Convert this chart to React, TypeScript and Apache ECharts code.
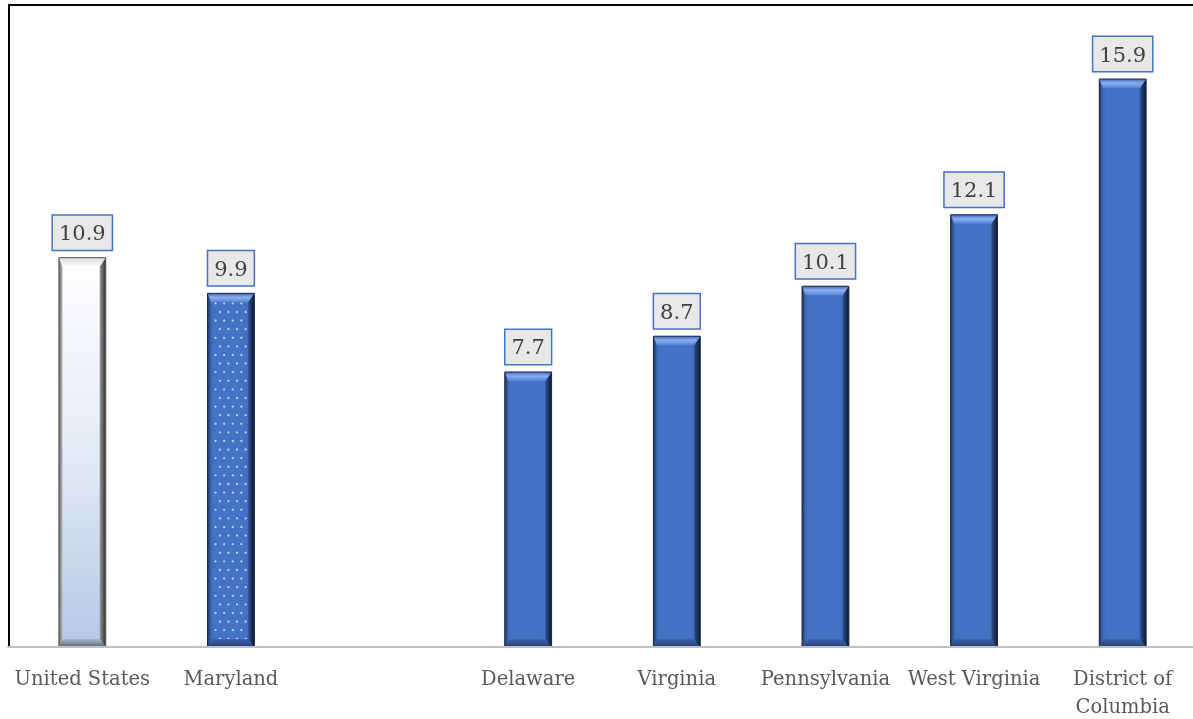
import React, { useEffect, useRef } from "react";
import * as echarts from "echarts";

const categories = ["United States", "Maryland", "", "Delaware", "Virginia", "Pennsylvania", "West Virginia", "District of\nColumbia"];
const values: (number | null)[] = [10.9, 9.9, null, 7.7, 8.7, 10.1, 12.1, 15.9];
const yMax = 18;

export default function App() {
  const ref = useRef<HTMLDivElement>(null);
  useEffect(() => {
    const chart = echarts.init(ref.current!, null, { renderer: "svg" });
    const lin = (x: number, y: number, x2: number, y2: number, stops: [number, string][]) =>
      new echarts.graphic.LinearGradient(x, y, x2, y2, stops.map(([o, c]) => ({ offset: o, color: c })));

    const renderItem = (params: any, api: any) => {
      const v = api.value(1);
      if (v === null || v === undefined || isNaN(v)) return { type: "group", children: [] };
      const idx = api.value(0);
      const name = categories[idx];
      const [cx, yTop] = api.coord([idx, v]);
      const [, yBase] = api.coord([idx, 0]);
      const w = api.size([1, 0])[0] * 0.315;
      const x0 = cx - w / 2;
      const x1 = cx + w / 2;
      const h = yBase - yTop;
      const b = 6;
      const silver = name === "United States";
      const dotted = name === "Maryland";
      const children: any[] = [];
      children.push({
        type: "rect",
        shape: { x: x0, y: yTop, width: w, height: h },
        style: {
          fill: silver
            ? lin(0, 0, 0, 1, [[0, "#ffffff"], [0.5, "#e4ebf6"], [1, "#b4c7e7"]])
            : lin(0, 0, 1, 0, [[0, "#3a63ad"], [0.15, "#4472c4"], [0.8, "#4472c4"], [1, "#3a62a8"]]),
        },
      });
      if (dotted) {
        const sp = 8.6;
        let row = 0;
        for (let y = yTop + b + 4; y < yBase - 4; y += sp, row++) {
          const off = row % 2 === 0 ? 0 : sp / 2;
          for (let x = x0 + b + 2 + off; x < x1 - b; x += sp) {
            children.push({ type: "circle", shape: { cx: x, cy: y, r: 1.1 }, style: { fill: "rgba(225,235,255,0.85)" } });
          }
        }
      }
      children.push({
        type: "polygon",
        shape: { points: [[x0, yTop], [x0 + b * 0.6, yTop + b], [x0 + b * 0.6, yBase - b], [x0, yBase]] },
        style: { fill: silver ? lin(0, 0, 1, 0, [[0, "#6b6b6b"], [1, "#b8b8b8"]]) : lin(0, 0, 1, 0, [[0, "#1f3864"], [1, "#3d67b5"]]) },
      });
      children.push({
        type: "polygon",
        shape: { points: [[x1, yTop], [x1 - b, yTop + b], [x1 - b, yBase - b], [x1, yBase]] },
        style: { fill: silver ? lin(0, 0, 1, 0, [[0, "#9a9a9a"], [1, "#2e2e2e"]]) : lin(0, 0, 1, 0, [[0, "#2d4f8e"], [1, "#0c1830"]]) },
      });
      children.push({
        type: "polygon",
        shape: { points: [[x0, yTop], [x1, yTop], [x1 - b, yTop + b + 3], [x0 + b * 0.6, yTop + b + 3]] },
        style: { fill: silver ? lin(0, 0, 0, 1, [[0, "#d9d9d9"], [1, "#ffffff"]]) : lin(0, 0, 0, 1, [[0, "#3e68b8"], [0.45, "#8aaef0"], [1, "#5583d6"]]) },
      });
      children.push({
        type: "polygon",
        shape: { points: [[x0, yBase], [x1, yBase], [x1 - b, yBase - b - 2], [x0 + b * 0.6, yBase - b - 2]] },
        style: { fill: silver ? lin(0, 0, 0, 1, [[0, "#a9b8d2"], [1, "#5c6475"]]) : lin(0, 0, 0, 1, [[0, "#3d66b0"], [1, "#243f73"]]) },
      });
      children.push({
        type: "rect",
        shape: { x: x0, y: yTop, width: w, height: h },
        style: { fill: "none", stroke: silver ? "#555555" : "#1a2a4a", lineWidth: 1 },
      });
      children.push({
        type: "text",
        style: {
          text: String(v),
          x: cx,
          y: yTop - 8,
          align: "center",
          verticalAlign: "bottom",
          fontFamily: "DejaVu Serif",
          fontSize: 21,
          fill: "#404040",
          backgroundColor: "#e8e8e8",
          borderColor: "#4472c4",
          borderWidth: 1.5,
          padding: [7, 6, 6, 6],
        },
      });
      return { type: "group", children };
    };

    chart.setOption({
      animation: false,
      grid: { left: 8, width: 1189, top: 4, bottom: 72, outerBoundsMode: "none", containLabel: false },
      graphic: [
        {
          type: "rect",
          z: -1,
          shape: { x: 9, y: 5, width: 1200, height: 642 },
          style: { fill: "none", stroke: "#000000", lineWidth: 2 },
        },
      ],
      xAxis: {
        type: "category",
        data: categories,
        axisLine: { show: true, lineStyle: { color: "#bfbfbf", width: 2 } },
        axisTick: { show: false },
        axisLabel: {
          interval: 0,
          margin: 17,
          fontFamily: "DejaVu Serif",
          fontSize: 19.5,
          lineHeight: 28,
          color: "#595959",
        },
        z: 5,
      },
      yAxis: {
        type: "value",
        min: 0,
        max: yMax,
        show: false,
        splitLine: { show: false },
      },
      series: [
        {
          type: "custom",
          renderItem,
          data: values.map((v, i) => [i, v === null ? NaN : v]),
          clip: false,
        },
      ],
    });
    return () => chart.dispose();
  }, []);
  return <div ref={ref} style={{ position: "fixed", left: 0, top: 0, width: 1193, height: 719 }} />;
}
